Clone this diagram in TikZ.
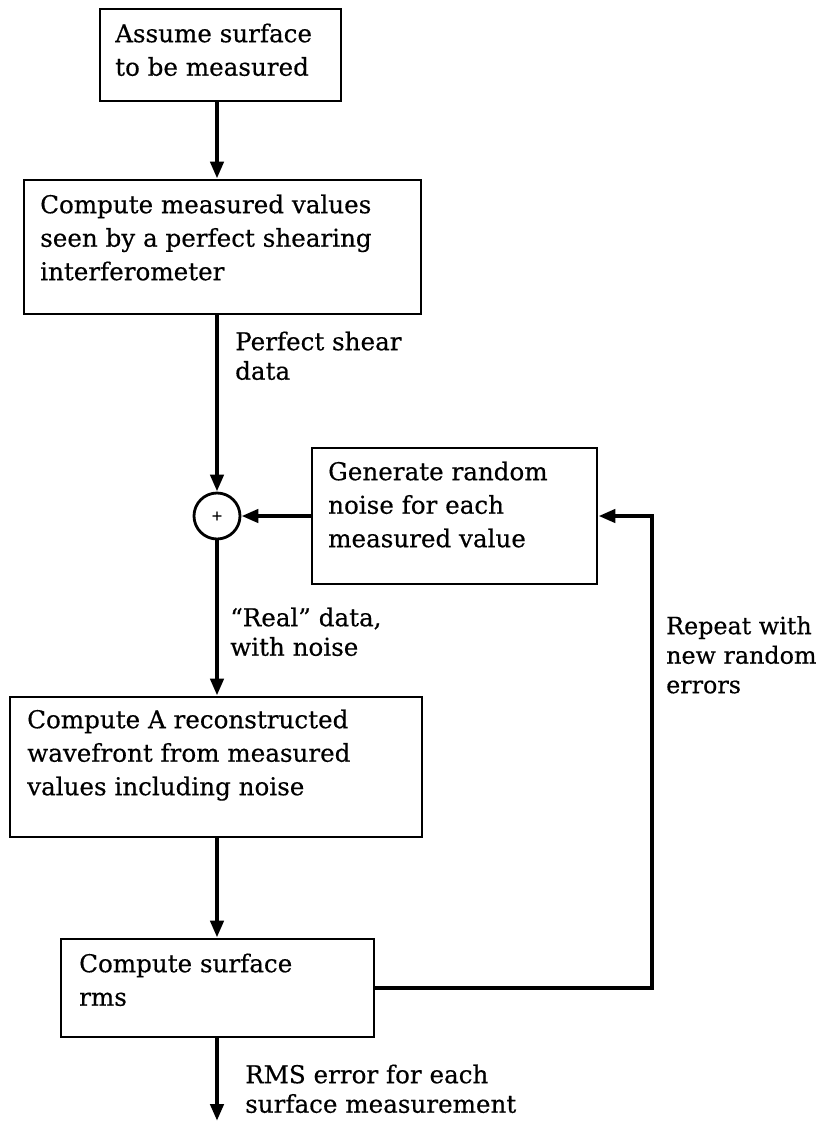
\documentclass[tikz,border=0pt]{standalone}
\usepackage{fontspec}
\setmainfont{DejaVu Serif}[FakeBold=0.4]
\usetikzlibrary{arrows.meta}
\newcommand\topstrut{\rule{0pt}{24pt}}
\begin{document}
\begin{tikzpicture}[x=1pt,y=-1pt,
  boxnode/.style={draw, line width=2.8pt, rectangle, inner sep=0pt},
  boxtext/.style={anchor=north west, inner sep=0pt, align=left, font=\fontsize{24.6}{33.5}\selectfont},
  labtext/.style={anchor=north west, inner sep=0pt, align=left, font=\fontsize{24.6}{29.5}\selectfont},
  conn/.style={line width=4.5pt, -{Triangle[length=17pt,width=13pt]}, line join=miter},
]
\fill[white] (0,0) rectangle (825,1122);
\useasboundingbox (0,0) rectangle (825,1122);

% boxes
\node[boxnode, minimum width=241pt, minimum height=92pt] (b1) at (220.5,55) {};
\node[boxnode, minimum width=397pt, minimum height=134pt] (b2) at (222.5,247) {};
\node[boxnode, minimum width=285pt, minimum height=136pt] (noise) at (454.5,516) {};
\node[boxnode, minimum width=412pt, minimum height=140pt] (b3) at (216,767) {};
\node[boxnode, minimum width=313pt, minimum height=98pt] (rms) at (217.5,988) {};
\node[draw, circle, line width=2.8pt, minimum size=46pt, inner sep=0pt, font=\fontsize{14}{14}\selectfont] (sum) at (217,516) {+};

% box texts
\node[boxtext] (t1) at (115,18) {\topstrut Assume surface\\to be measured};
\node[boxtext] (t2) at (40,189) {\topstrut Compute measured values\\seen by a perfect shearing\\interferometer};
\node[boxtext] (tn) at (328,456) {\topstrut Generate random\\noise for each\\measured value};
\node[boxtext] (t3) at (27,704) {\topstrut Compute A reconstructed\\wavefront from measured\\values including noise};
\node[boxtext] (tr) at (79,948) {\topstrut Compute surface\\rms};

% labels
\node[labtext] (l1) at (235,326) {\topstrut Perfect shear\\data};
\node[labtext] (l2) at (230,602) {\topstrut “Real” data,\\with noise};
\node[labtext, font=\fontsize{23.8}{29.5}\selectfont] (l3) at (666,610) {\topstrut Repeat with\\new random\\errors};
\node[labtext] (l4) at (245,1059) {\topstrut RMS error for each\\surface measurement};

% coordinates
\coordinate (lc) at (652,516);
\coordinate (out) at (217,1121);

% connectors
\draw[conn] (sum |- b1.south) -- (sum |- b2.north);
\draw[conn] (sum |- b2.south) -- (sum.north);
\draw[conn] (noise.west) -- (sum.east);
\draw[conn] (sum.south) -- (sum |- b3.north);
\draw[conn] (sum |- b3.south) -- (sum |- rms.north);
\draw[conn] (sum |- rms.south) -- (out);
\draw[conn] (rms.east) -| (lc) -- (noise.east);
\end{tikzpicture}
\end{document}
